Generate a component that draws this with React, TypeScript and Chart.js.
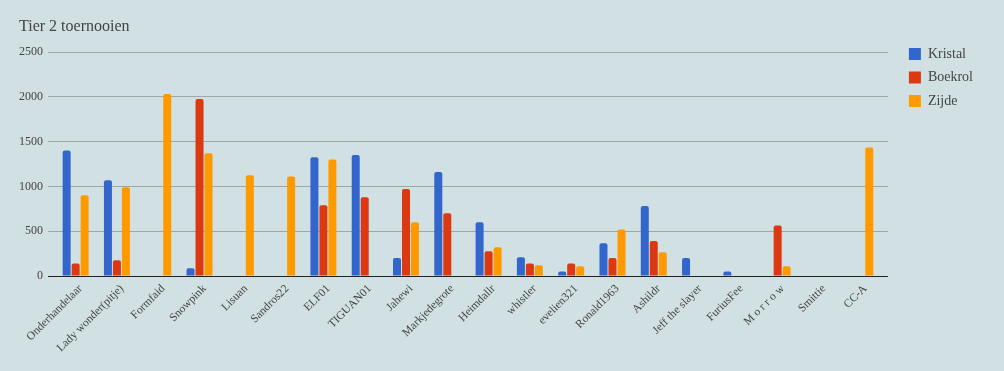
import React, { useEffect, useRef } from "react";
import { Chart, registerables } from "chart.js";

Chart.register(...registerables);

const categories = [
  "Onderhandelaar",
  "Lady wonder(pitje)",
  "Formfaid",
  "Snowpink",
  "Lisuan",
  "Sandros22",
  "ELF01",
  "TIGUAN01",
  "Jahewi",
  "Markjedegrote",
  "Heimdallr",
  "whistler",
  "evelien321",
  "Ronald1963",
  "Ashildr",
  "Jeff the slayer",
  "FuriusFee",
  "M o r r o w",
  "Smittie",
  "CC-A",
];

const kristal = [1400, 1070, null, 86, null, null, 1325, 1350, 200, 1160, 600, 210, 50, 365, 780, 200, 50, null, null, null];
const boekrol = [140, 175, null, 1975, null, null, 790, 880, 970, 700, 275, 140, 140, 200, 390, null, null, 565, null, null];
const zijde = [900, 990, 2030, 1370, 1125, 1110, 1300, null, 600, null, 320, 120, 110, 520, 265, null, null, 108, null, 1435];

const seriesNames = ["Kristal", "Boekrol", "Zijde"];
const seriesColors = ["#3366cc", "#dc3912", "#ff9900"];

const yTicks = [0, 500, 1000, 1500, 2000, 2500];

const BG = "#d0e0e3";
const TEXT = "#444444";
const GRID = "#9ba8a6";
const FONT = "'Liberation Serif', 'Times New Roman', serif";

const LEGEND_GAP = 11.5;
const X_INSET = 7;

const insetPlugin = {
  id: "insetPlugin",
  afterLayout(chart: any) {
    const area = chart.chartArea;
    if (chart.legend) {
      area.right = chart.legend.left - LEGEND_GAP;
      area.width = area.right - area.left;
    }
    const x = chart.scales.x;
    x.left = area.left + X_INSET;
    x.right = area.right - X_INSET;
    x.width = x.right - x.left;
    x.configure();
  },
};

export default function App() {
  const ref = useRef<HTMLCanvasElement | null>(null);

  useEffect(() => {
    document.body.style.margin = "0";
    document.body.style.background = BG;
    document.documentElement.style.background = BG;
    if (!ref.current) return;
    const data = [kristal, boekrol, zijde];
    const chart = new Chart(ref.current, {
      type: "bar",
      data: {
        labels: categories,
        datasets: seriesNames.map((name, i) => ({
          label: name,
          data: data[i],
          backgroundColor: seriesColors[i],
          borderColor: seriesColors[i],
          borderWidth: 0,
          borderRadius: { topLeft: 2, topRight: 2, bottomLeft: 0, bottomRight: 0 },
          borderSkipped: "start",
          categoryPercentage: 0.654,
          barPercentage: 0.889,
        })),
      },
      options: {
        responsive: false,
        animation: false,
        layout: { padding: { left: 19, right: 21, top: 0, bottom: 0 } },
        plugins: {
          title: {
            display: true,
            text: "Tier 2 toernooien",
            align: "start",
            color: TEXT,
            font: { family: FONT, size: 16, weight: "normal" },
            padding: { top: 17, bottom: 15.8 },
          },
          legend: {
            display: true,
            position: "right",
            align: "start",
            title: {
              display: true,
              text: " ",
              font: { family: FONT, size: 10, lineHeight: 1 },
              padding: { top: 27.5, bottom: 0 },
            },
            labels: {
              color: TEXT,
              font: { family: FONT, size: 14 },
              boxWidth: 12,
              boxHeight: 12,
              padding: 9.5,
            },
          },
          tooltip: { enabled: false },
        },
        scales: {
          x: {
            grid: { display: false },
            border: { display: false },
            ticks: {
              color: TEXT,
              font: { family: FONT, size: 11.5 },
              minRotation: 45,
              maxRotation: 45,
              autoSkip: false,
              padding: -2,
              labelOffset: 5,
            },
            afterFit(scale: any) {
              scale.height = 95;
            },
          },
          y: {
            min: 0,
            max: 2500,
            afterBuildTicks(scale: any) {
              scale.ticks = yTicks.map((v) => ({ value: v }));
            },
            grid: {
              drawTicks: false,
              color: (ctx: any) => (ctx.tick && ctx.tick.value === 0 ? "#222222" : GRID),
              lineWidth: 1,
            },
            border: { display: false },
            ticks: {
              color: TEXT,
              font: { family: FONT, size: 12 },
              padding: 5,
              callback: (v: any) => String(v),
            },
            afterFit(scale: any) {
              scale.width = 29;
            },
          },
        },
      },
      plugins: [insetPlugin],
    } as any);
    return () => chart.destroy();
  }, []);

  return (
    <div style={{ width: 1004, height: 371, background: BG }}>
      <canvas ref={ref} width={1004} height={371} />
    </div>
  );
}
